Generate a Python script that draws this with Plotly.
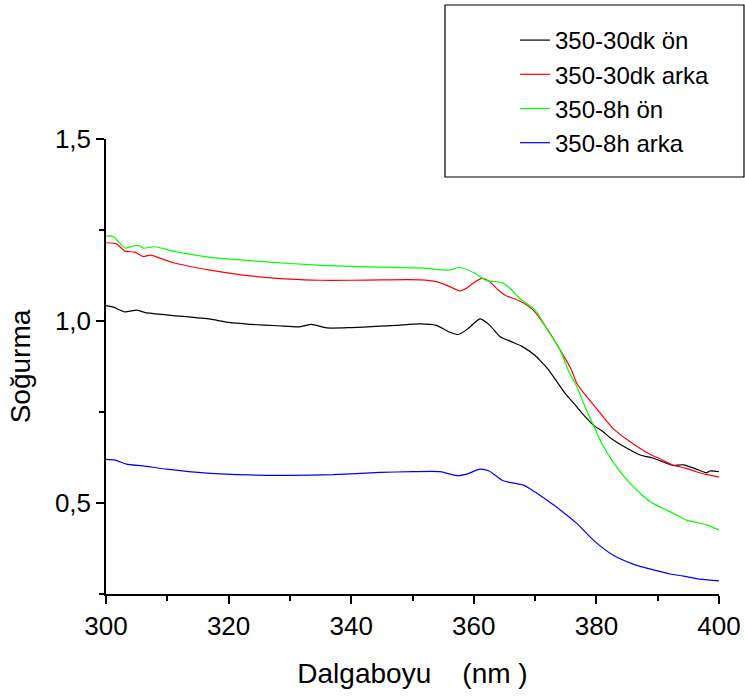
import plotly.graph_objects as go

# ---- data ----
wl_30dk_on = [300, 301.2, 303.1, 305, 306.4, 311, 317, 320, 323.5, 328, 331.6, 333.5, 336, 340, 344,
              347.4, 351.2, 353.9, 356.1, 357.5, 359, 361, 362.5, 364.3, 366, 367.8, 370, 371, 372,
              373.5, 374.9, 376.5, 377.9, 379.5, 381.1, 382.2, 384.5, 387.1, 389.3, 391, 392.5, 394.2,
              396, 398, 398.5, 400]
abs_30dk_on = [1.042, 1.038, 1.025, 1.030, 1.023, 1.015, 1.005, 0.996, 0.991, 0.987, 0.984, 0.991, 0.981,
               0.982, 0.985, 0.988, 0.992, 0.988, 0.969, 0.963, 0.978, 1.006, 0.990, 0.957, 0.944, 0.931,
               0.905, 0.888, 0.870, 0.835, 0.801, 0.770, 0.742, 0.714, 0.696, 0.680, 0.655, 0.632, 0.623,
               0.612, 0.603, 0.605, 0.595, 0.583, 0.588, 0.586]

wl_30dk_arka = [300, 301.7, 303.1, 304.7, 306.1, 307.2, 311, 317, 323.5, 330, 335, 340, 345, 351.2, 353.9,
                356, 357.7, 358.8, 360, 361.3, 362.6, 364, 365.1, 367.5, 369.7, 371.9, 374.1, 375.9,
                376.8, 378.5, 380, 382.7, 385.5, 388.2, 390.5, 392.5, 394.5, 396.3, 398, 400]
abs_30dk_arka = [1.215, 1.212, 1.192, 1.189, 1.177, 1.181, 1.160, 1.140, 1.124, 1.115, 1.112, 1.112, 1.113,
                 1.113, 1.108, 1.095, 1.083, 1.090, 1.105, 1.117, 1.108, 1.085, 1.071, 1.055, 1.030, 0.980,
                 0.920, 0.867, 0.829, 0.790, 0.760, 0.705, 0.668, 0.639, 0.620, 0.604, 0.596, 0.586, 0.578,
                 0.572]

wl_8h_on = [300, 301.2, 303.1, 304.4, 305.5, 306.1, 308, 311, 317, 323.5, 330, 335, 340, 345, 351.2, 356.1,
            357.7, 360.2, 362.1, 364.5, 366, 367.5, 370, 372.4, 374.1, 375.4, 376.8, 378, 379.5, 381,
            382.7, 385.5, 388.7, 390.5, 392.5, 394.7, 398, 400]
abs_8h_on = [1.234, 1.232, 1.200, 1.206, 1.206, 1.200, 1.204, 1.192, 1.175, 1.166, 1.158, 1.153, 1.150,
             1.148, 1.146, 1.140, 1.147, 1.131, 1.111, 1.106, 1.088, 1.062, 1.030, 0.966, 0.920, 0.865,
             0.820, 0.770, 0.714, 0.660, 0.613, 0.554, 0.504, 0.488, 0.472, 0.453, 0.440, 0.426]

wl_8h_arka = [300, 301.5, 303.3, 306, 309.9, 316.4, 323.5, 330, 337, 344.7, 350, 354.5, 357.2, 359, 361,
              362.5, 364.8, 368.1, 370, 371.9, 374.1, 376.8, 379.5, 382.7, 386, 389.8, 392, 394.2, 396.3,
              398, 400]
abs_8h_arka = [0.620, 0.618, 0.607, 0.602, 0.593, 0.582, 0.577, 0.576, 0.578, 0.584, 0.586, 0.586, 0.575,
               0.580, 0.593, 0.588, 0.561, 0.549, 0.530, 0.508, 0.481, 0.444, 0.398, 0.357, 0.332, 0.314,
               0.305, 0.299, 0.292, 0.289, 0.286]

series_names = ["350-30dk ön", "350-30dk arka", "350-8h ön", "350-8h arka"]
series_colors = ["#000000", "#ff0000", "#00ff00", "#0000ff"]

x_ticks = [300, 320, 340, 360, 380, 400]
y_ticks = [0.5, 1.0, 1.5]
y_tick_labels = ["0,5", "1,0", "1,5"]

FONT = "Arial, Liberation Sans, sans-serif"

fig = go.Figure()
for name, color, xs, ys in zip(series_names, series_colors,
                               [wl_30dk_on, wl_30dk_arka, wl_8h_on, wl_8h_arka],
                               [abs_30dk_on, abs_30dk_arka, abs_8h_on, abs_8h_arka]):
    fig.add_trace(go.Scatter(x=xs, y=ys, mode="lines", name=name,
                             line=dict(color=color, width=1.2, shape="spline", smoothing=0.6)))

W, H = 745, 697
L, R, T, B = 106, 26, 139, 103
pw = W - L - R
ph = H - T - B

def px_to_paper_x(px):
    return (px - L) / pw

def px_to_paper_y(py):
    return (H - B - py) / ph

fig.update_layout(
    width=W, height=H,
    margin=dict(l=L, r=R, t=T, b=B, autoexpand=False),
    paper_bgcolor="white", plot_bgcolor="white",
    font=dict(family=FONT, size=26, color="black"),
    showlegend=True,
    legend=dict(
        x=px_to_paper_x(515), y=px_to_paper_y(18), xanchor="left", yanchor="top",
        bgcolor="rgba(0,0,0,0)", borderwidth=0,
        font=dict(family=FONT, size=24, color="black"),
        tracegroupgap=0,
    ),
    shapes=[dict(type="rect", xref="paper", yref="paper",
                 x0=px_to_paper_x(445), x1=px_to_paper_x(744),
                 y0=px_to_paper_y(177), y1=px_to_paper_y(5),
                 line=dict(color="black", width=1.2), fillcolor="rgba(0,0,0,0)")],
    xaxis=dict(
        range=[300, 400], tickvals=x_ticks, ticks="outside", ticklen=8, tickwidth=1.5,
        tickcolor="black", showline=True, linecolor="black", linewidth=1.5,
        showgrid=False, zeroline=False, automargin=False,
        minor=dict(dtick=10, tick0=300, ticks="outside", ticklen=5, tickwidth=1.5, tickcolor="black", showgrid=False),
        tickfont=dict(size=26),
        title=dict(text="Dalgaboyu\u00a0\u00a0\u00a0\u00a0(nm )", font=dict(size=28), standoff=23),
    ),
    yaxis=dict(
        range=[0.25, 1.5], tickvals=y_ticks, ticktext=y_tick_labels, ticks="outside", ticklen=8,
        tickwidth=1.5, tickcolor="black", showline=True, linecolor="black", linewidth=1.5,
        showgrid=False, zeroline=False, automargin=False,
        minor=dict(dtick=0.25, tick0=0.25, ticks="outside", ticklen=5, tickwidth=1.5, tickcolor="black", showgrid=False),
        tickfont=dict(size=26),
        title=dict(text="Soğurma", font=dict(size=28), standoff=16),
    ),
)

fig.write_html("out.html",
               config={"displayModeBar": False},
               post_script="document.body.style.margin='0px';document.body.style.overflow='hidden';")
